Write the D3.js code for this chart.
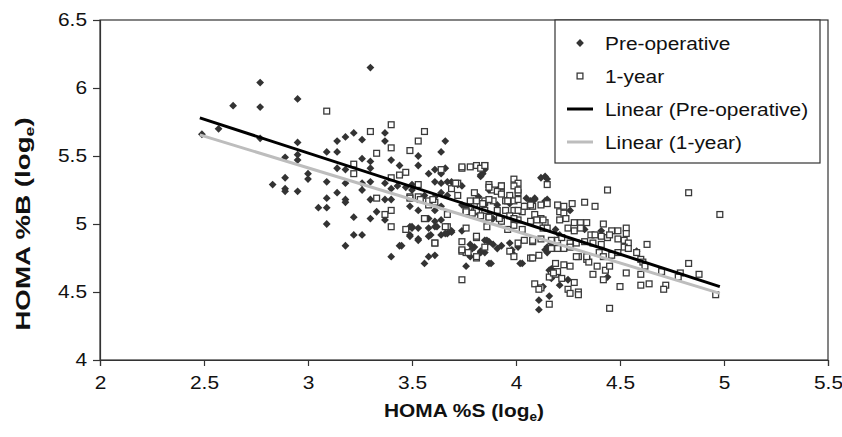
<!DOCTYPE html>
<html lang="en">

<head>
    <meta charset="UTF-8">
    <title>HOMA %B vs HOMA %S</title>
    <style>
        body { margin: 0; background: #fff; }
        text { font-family: "Liberation Sans", Arial, sans-serif; fill: #111; }
    </style>
</head>

<body>
    <div id="wrapper"></div>

    <script src="https://d3js.org/d3.v7.min.js"></script>
    <script>
        // tick values
        const xTicks = [2, 2.5, 3, 3.5, 4, 4.5, 5, 5.5];
        const yTicks = [4, 4.5, 5, 5.5, 6, 6.5];

        // series names (legend)
        const seriesNames = ["Pre-operative", "1-year", "Linear (Pre-operative)", "Linear (1-year)"];

        // Pre-operative points [HOMA %S, HOMA %B] (log e)
        const preOperative = [
            [2.49, 5.66], [2.57, 5.70], [2.64, 5.87], [2.77, 6.04], [2.77, 5.86], [2.77, 5.63], [2.95, 5.92], [2.95, 5.60],
            [2.89, 5.49], [2.95, 5.51], [2.95, 5.47], [2.89, 5.34], [2.83, 5.29], [2.89, 5.26], [2.89, 5.24], [2.95, 5.24],
            [3.00, 5.37], [3.00, 5.33], [3.09, 5.53], [3.14, 5.53], [3.14, 5.61], [3.18, 5.64], [3.22, 5.67], [3.26, 5.62],
            [3.37, 5.67], [3.37, 5.61], [3.26, 5.48], [3.30, 5.46], [3.30, 5.41], [3.14, 5.41], [3.18, 5.40], [3.09, 5.31],
            [3.18, 5.30], [3.26, 5.30], [3.30, 5.31], [3.37, 5.30], [3.14, 5.23], [3.18, 5.18], [3.18, 5.16], [3.09, 5.19],
            [3.26, 5.25], [3.30, 5.18], [3.37, 5.18], [3.05, 5.12], [3.09, 5.12], [3.33, 5.09], [3.37, 5.03], [3.09, 5.00],
            [3.22, 5.05], [3.30, 5.04], [3.22, 4.92], [3.26, 4.92], [3.18, 4.84], [3.40, 4.76], [3.30, 6.15],
            [3.44, 4.84], [3.56, 4.71], [3.58, 4.76], [3.44, 5.43], [3.40, 5.47], [3.53, 5.50], [3.53, 5.43], [3.58, 5.37],
            [3.40, 5.18], [3.43, 5.28], [3.49, 5.13], [3.53, 5.10], [3.50, 4.98], [3.53, 4.89], [3.49, 4.92], [3.58, 4.91],
            [3.47, 5.27], [3.50, 5.25], [3.66, 5.61], [3.64, 5.53], [3.40, 5.26], [3.50, 5.29], [3.61, 5.40], [3.64, 5.37],
            [3.66, 5.41], [3.61, 5.31], [3.64, 5.30], [3.67, 5.31], [3.69, 5.31], [3.72, 5.29], [3.56, 5.21], [3.61, 5.20],
            [3.64, 5.23], [3.67, 5.21], [3.61, 5.10], [3.64, 5.13], [3.58, 5.04], [3.61, 5.02], [3.64, 5.03], [3.58, 4.97],
            [3.61, 4.98], [3.50, 4.97], [3.67, 4.93], [3.69, 4.94], [3.61, 4.77], [3.76, 4.69], [3.78, 4.85], [3.80, 4.83],
            [3.78, 4.76], [3.74, 5.14], [3.76, 5.13], [3.83, 5.36], [3.85, 5.40], [3.87, 5.25], [3.91, 5.25], [4.12, 5.34],
            [4.14, 5.35], [4.15, 5.33], [3.85, 5.14], [3.91, 5.14], [3.97, 5.15], [4.07, 5.17], [4.09, 5.19], [3.85, 4.88],
            [3.87, 4.87], [3.89, 4.85], [3.91, 4.82], [3.85, 4.79], [3.83, 4.79], [3.88, 4.71], [4.03, 4.71], [3.97, 4.86],
            [3.98, 4.81], [4.01, 4.83], [4.14, 4.81], [4.15, 4.83], [4.17, 4.86], [4.11, 4.44], [4.11, 4.37], [4.16, 4.47],
            [4.17, 4.67], [4.17, 4.60], [4.19, 4.96], [4.21, 4.92], [4.26, 5.10], [4.33, 4.96], [4.41, 4.95], [4.52, 4.87],
            [4.58, 4.80], [4.44, 4.61], [4.13, 4.54], [4.21, 4.55], [4.25, 4.59], [4.16, 4.66], [3.74, 5.28], [3.83, 5.35],
            [3.84, 5.37], [3.49, 4.98], [3.53, 4.97], [3.49, 4.91], [3.53, 4.88], [3.59, 4.92], [3.62, 4.98], [3.64, 4.92],
            [3.66, 4.93], [3.69, 4.95], [3.74, 4.95], [3.79, 4.82], [3.83, 4.80], [3.86, 4.88], [3.93, 4.84], [3.98, 4.79],
            [3.87, 4.71], [4.02, 4.71], [3.45, 4.84], [3.96, 5.18], [3.97, 5.20], [4.05, 5.19], [4.09, 5.18], [4.14, 5.17],
            [4.15, 5.18], [3.82, 5.20], [3.86, 5.17], [3.87, 5.06], [3.89, 5.04], [3.81, 5.10], [4.15, 4.79]
        ];

        // 1-year points [HOMA %S, HOMA %B] (log e)
        const oneYear = [
            [3.09, 5.83], [3.30, 5.68], [3.33, 5.52], [3.22, 5.44], [3.22, 5.37], [3.33, 5.19], [3.37, 5.07], [3.40, 5.73],
            [3.40, 5.56], [3.53, 5.61], [3.56, 5.68], [3.49, 5.54], [3.44, 5.36], [3.47, 5.38], [3.40, 5.34], [3.53, 5.29],
            [3.53, 5.20], [3.58, 5.14], [3.56, 5.04], [3.40, 5.10], [3.40, 4.98], [3.49, 5.20], [3.64, 5.40], [3.72, 5.30],
            [3.69, 5.26], [3.72, 5.21], [3.74, 5.41], [3.78, 5.42], [3.61, 5.16], [3.67, 5.07], [3.67, 4.98], [3.61, 4.86],
            [3.74, 4.87], [3.74, 4.80], [3.76, 4.79], [3.76, 4.97], [3.74, 4.59], [3.80, 5.23], [3.80, 5.15], [3.80, 5.09],
            [3.76, 5.10], [3.81, 5.43], [3.85, 5.43], [3.93, 5.28], [3.99, 5.33], [4.01, 5.30], [3.99, 5.28], [4.01, 5.23],
            [3.87, 5.29], [3.89, 5.25], [3.93, 5.23], [3.97, 5.21], [3.81, 5.17], [3.85, 5.17], [3.89, 5.17], [3.95, 5.17],
            [3.99, 5.17], [4.03, 5.09], [3.99, 5.10], [3.95, 5.10], [3.91, 5.10], [3.85, 5.10], [3.81, 5.10], [4.05, 5.13],
            [4.08, 5.13], [4.12, 5.14], [4.09, 5.07], [4.12, 5.04], [4.14, 5.01], [3.83, 5.06], [3.87, 5.03], [3.93, 5.02],
            [3.99, 4.99], [4.03, 4.96], [4.07, 5.02], [4.01, 5.03], [3.81, 4.90], [3.81, 4.75], [3.85, 4.83], [3.96, 4.96],
            [4.01, 4.86], [4.08, 4.87], [4.12, 4.89], [4.07, 4.75], [4.11, 4.77], [4.17, 4.88], [4.20, 4.88], [4.20, 4.82],
            [4.17, 4.82], [4.09, 4.56], [4.12, 4.53], [4.16, 4.41], [4.17, 4.63], [4.19, 4.63], [4.20, 4.65], [4.20, 5.14],
            [4.21, 5.09], [4.21, 5.03], [4.10, 5.03], [4.13, 5.03], [4.13, 4.97], [4.15, 4.97], [4.44, 5.25], [4.27, 5.15],
            [4.33, 5.16], [4.38, 5.13], [4.23, 5.08], [4.24, 5.04], [4.28, 5.01], [4.31, 5.01], [4.34, 5.01], [4.42, 5.00],
            [4.46, 4.95], [4.49, 4.95], [4.53, 4.97], [4.53, 4.93], [4.25, 4.97], [4.28, 4.95], [4.31, 4.97], [4.36, 4.92],
            [4.38, 4.92], [4.41, 4.91], [4.44, 4.90], [4.45, 4.92], [4.22, 4.90], [4.26, 4.86], [4.29, 4.86], [4.33, 4.87],
            [4.37, 4.86], [4.41, 4.85], [4.49, 4.89], [4.52, 4.88], [4.54, 4.86], [4.23, 4.82], [4.26, 4.83], [4.30, 4.76],
            [4.34, 4.74], [4.40, 4.79], [4.42, 4.76], [4.46, 4.77], [4.49, 4.79], [4.52, 4.83], [4.54, 4.82], [4.58, 4.79],
            [4.60, 4.74], [4.61, 4.72], [4.63, 4.85], [4.60, 4.63], [4.60, 4.55], [4.64, 4.56], [4.72, 4.55], [4.71, 4.52],
            [4.53, 4.64], [4.37, 4.63], [4.42, 4.59], [4.43, 4.66], [4.45, 4.69], [4.50, 4.54], [4.45, 4.38], [4.11, 4.52],
            [4.16, 4.61], [4.18, 4.64], [4.22, 4.60], [4.25, 4.52], [4.26, 4.49], [4.30, 4.50], [4.30, 4.48], [4.28, 4.57],
            [4.19, 4.71], [4.23, 4.70], [4.26, 4.69], [4.29, 4.76], [4.35, 4.72], [4.39, 4.69], [4.34, 4.76], [4.83, 5.23],
            [4.98, 5.07], [4.83, 4.71], [4.62, 4.69], [4.70, 4.65], [4.79, 4.64], [4.78, 4.61], [4.88, 4.63], [4.96, 4.48],
            [3.71, 5.30], [3.87, 5.27], [3.91, 5.24], [3.93, 5.28], [4.01, 5.25], [3.93, 5.22], [3.96, 5.17], [4.01, 5.18],
            [3.87, 5.18], [3.84, 5.15], [3.78, 5.17], [3.76, 5.09], [3.79, 5.08], [3.87, 5.05], [3.92, 5.04], [3.97, 5.06],
            [4.01, 5.10], [3.99, 5.04], [4.04, 5.13], [4.07, 5.14], [4.15, 5.15], [4.15, 5.29], [3.56, 5.04], [3.61, 4.86],
            [3.66, 4.98], [3.74, 4.81], [3.77, 4.79], [3.81, 4.76], [3.81, 4.91], [3.86, 4.98], [3.97, 4.80], [3.99, 4.76],
            [4.04, 4.88], [4.08, 4.88], [4.08, 4.75], [3.49, 5.19], [3.54, 5.18], [3.58, 5.17], [3.60, 5.18], [3.47, 4.96],
            [3.74, 5.42], [3.83, 5.41], [3.85, 5.43], [4.23, 5.13]
        ];

        // linear trend lines, end points
        const trendPreX = [2.48, 4.98];
        const trendPreY = [5.78, 4.54];
        const trendYearX = [2.48, 4.98];
        const trendYearY = [5.655, 4.49];

        function drawChart() {
            const dimensions = {
                width: 842,
                height: 437,
                margin: { top: 20, right: 14, bottom: 77, left: 100 },
            };
            dimensions.boundedWidth = dimensions.width - dimensions.margin.left - dimensions.margin.right;
            dimensions.boundedHeight = dimensions.height - dimensions.margin.top - dimensions.margin.bottom;

            // the source picture is a little wider than tall, stretch text to match
            const stretch = 1.13;

            const wrapper = d3.select("#wrapper")
                .append("svg")
                .attr("width", dimensions.width)
                .attr("height", dimensions.height);

            const bounds = wrapper.append("g")
                .attr("transform", `translate(${dimensions.margin.left},${dimensions.margin.top})`);

            const xScale = d3.scaleLinear()
                .domain([xTicks[0], xTicks[xTicks.length - 1]])
                .range([0, dimensions.boundedWidth]);

            const yScale = d3.scaleLinear()
                .domain([yTicks[0], yTicks[yTicks.length - 1]])
                .range([dimensions.boundedHeight, 0]);

            // plot frame
            bounds.append("rect")
                .attr("width", dimensions.boundedWidth)
                .attr("height", dimensions.boundedHeight)
                .attr("fill", "none")
                .attr("stroke", "#333")
                .attr("stroke-width", 1.2);

            // axes
            const yAxis = bounds.append("g")
                .call(d3.axisLeft(yScale).tickValues(yTicks).tickSize(7).tickPadding(6).tickFormat(d => String(d)));
            const xAxis = bounds.append("g")
                .attr("transform", `translate(0,${dimensions.boundedHeight})`)
                .call(d3.axisBottom(xScale).tickValues(xTicks).tickSize(6).tickPadding(10).tickFormat(d => String(d)));

            [xAxis, yAxis].forEach(axis => {
                axis.select(".domain").attr("stroke", "#333").attr("stroke-width", 1.2);
                axis.selectAll(".tick line").attr("stroke", "#333").attr("stroke-width", 1.2);
                axis.selectAll(".tick text")
                    .attr("font-size", 18.5)
                    .attr("fill", "#111")
                    .style("font-family", '"Liberation Sans", Arial, sans-serif');
            });
            // widen tick labels around their anchor
            yAxis.selectAll(".tick text")
                .attr("transform", function () {
                    const x = +d3.select(this).attr("x");
                    return `translate(${x},0) scale(${stretch},1) translate(${-x},0)`;
                });
            xAxis.selectAll(".tick text").attr("transform", `scale(${stretch},1)`);

            // scatter: pre-operative diamonds
            const r = 3.9;
            bounds.append("g")
                .selectAll("path")
                .data(preOperative)
                .join("path")
                .attr("d", `M0,${-r}L${r},0L0,${r}L${-r},0Z`)
                .attr("transform", d => `translate(${xScale(d[0])},${yScale(d[1])})`)
                .attr("fill", "#333");

            // scatter: 1-year squares
            const s = 5.8;
            bounds.append("g")
                .selectAll("rect")
                .data(oneYear)
                .join("rect")
                .attr("x", d => xScale(d[0]) - s / 2)
                .attr("y", d => yScale(d[1]) - s / 2)
                .attr("width", s)
                .attr("height", s)
                .attr("fill", "#fff")
                .attr("stroke", "#3a3a3a")
                .attr("stroke-width", 1.3);

            // trend lines
            const lineGenerator = d3.line()
                .x(d => xScale(d[0]))
                .y(d => yScale(d[1]));

            bounds.append("path")
                .attr("d", lineGenerator(d3.zip(trendPreX, trendPreY)))
                .attr("fill", "none")
                .attr("stroke", "#000")
                .attr("stroke-width", 3);

            bounds.append("path")
                .attr("d", lineGenerator(d3.zip(trendYearX, trendYearY)))
                .attr("fill", "none")
                .attr("stroke", "#bdbdbd")
                .attr("stroke-width", 3);

            // axis titles
            const xTitle = wrapper.append("text")
                .attr("text-anchor", "middle")
                .attr("font-size", 18.5)
                .attr("font-weight", "bold")
                .attr("transform", `translate(${dimensions.margin.left + dimensions.boundedWidth / 2},417) scale(${stretch},1)`);
            xTitle.append("tspan").text("HOMA %S (log");
            xTitle.append("tspan").attr("font-size", 12).attr("dy", 4).text("e");
            xTitle.append("tspan").attr("dy", -4).text(")");

            // y title runs longer in the source, stretch it along its length
            const yTitle = wrapper.append("text")
                .attr("text-anchor", "middle")
                .attr("font-size", 19.5)
                .attr("font-weight", "bold")
                .attr("transform", `translate(30,224) rotate(-90) scale(1.42,1.08)`);
            yTitle.append("tspan").text("HOMA %B (log");
            yTitle.append("tspan").attr("font-size", 12.5).attr("dy", 4).text("e");
            yTitle.append("tspan").attr("dy", -4).text(")");

            // legend
            const legend = wrapper.append("g").attr("transform", "translate(555,20)");
            legend.append("rect")
                .attr("width", 265)
                .attr("height", 143)
                .attr("fill", "#fff")
                .attr("stroke", "#333")
                .attr("stroke-width", 1.2);

            const rowY = i => 23 + i * 33;
            legend.append("path")
                .attr("d", `M0,${-r}L${r},0L0,${r}L${-r},0Z`)
                .attr("transform", `translate(25,${rowY(0)})`)
                .attr("fill", "#333");
            legend.append("rect")
                .attr("x", 25 - s / 2).attr("y", rowY(1) - s / 2)
                .attr("width", s).attr("height", s)
                .attr("fill", "#fff").attr("stroke", "#3a3a3a").attr("stroke-width", 1.3);
            legend.append("line")
                .attr("x1", 12).attr("x2", 38).attr("y1", rowY(2)).attr("y2", rowY(2))
                .attr("stroke", "#000").attr("stroke-width", 3);
            legend.append("line")
                .attr("x1", 12).attr("x2", 38).attr("y1", rowY(3)).attr("y2", rowY(3))
                .attr("stroke", "#bdbdbd").attr("stroke-width", 3);

            legend.selectAll(".legend-label")
                .data(seriesNames)
                .join("text")
                .attr("class", "legend-label")
                .attr("font-size", 18.5)
                .attr("dominant-baseline", "central")
                .attr("transform", (d, i) => `translate(50,${rowY(i)}) scale(${stretch},1)`)
                .text(d => d);
        }
        drawChart();
    </script>
</body>

</html>
